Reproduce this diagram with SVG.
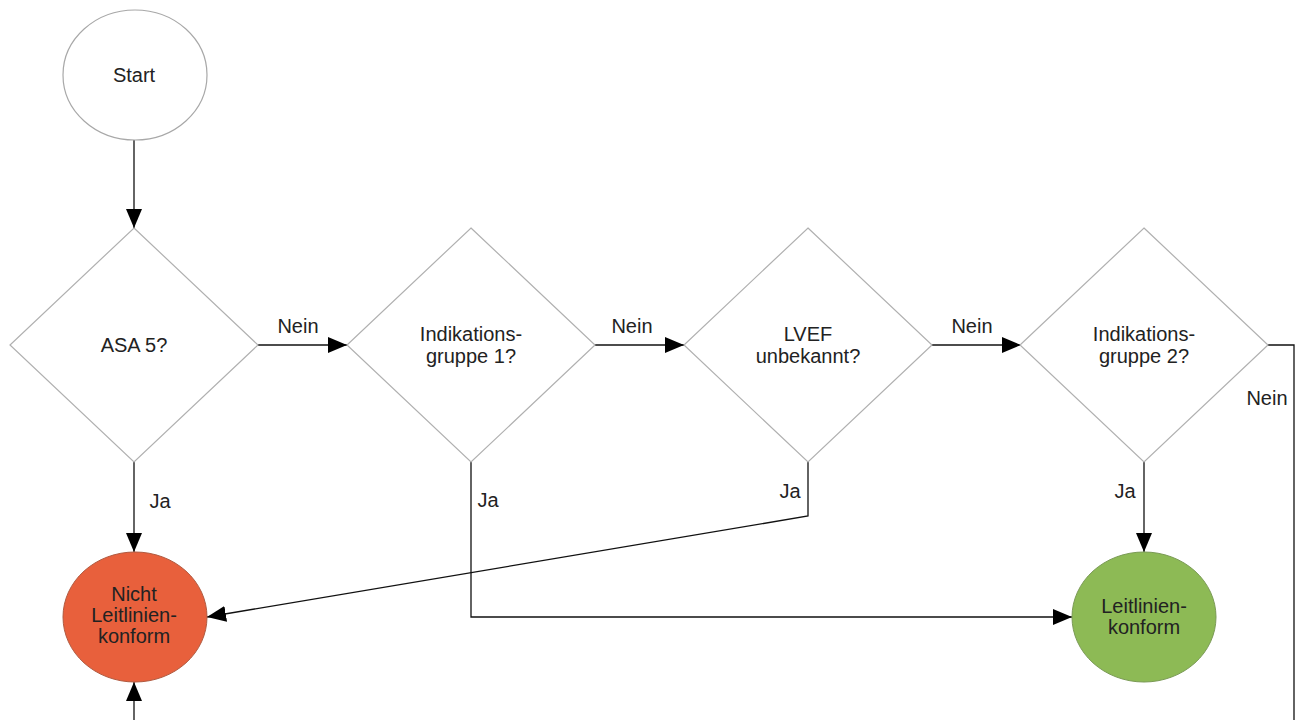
<svg xmlns="http://www.w3.org/2000/svg" width="1299" height="720" viewBox="0 0 1299 720">
<style>
text{font-family:"Liberation Sans",Arial,sans-serif;font-size:20px;fill:#222;text-anchor:middle}
.dia{fill:#fff;stroke:#b0b0b0;stroke-width:1.2}
.start{fill:#fff;stroke:#a8a8a8;stroke-width:1.2}
.red{fill:#e8603c;stroke:#b05a40;stroke-width:1}
.green{fill:#8dba55;stroke:#7a9a55;stroke-width:1}
.edge{fill:none;stroke:#111;stroke-width:1.3}
</style>
<defs>
<marker id="arr" markerUnits="userSpaceOnUse" markerWidth="20" markerHeight="16" refX="19" refY="8" orient="auto">
<path d="M0,0 L19,8 L0,16 z" fill="#000"/>
</marker>
</defs>
<rect width="1299" height="720" fill="#fff"/>
<g id="connectors">
<path class="edge" d="M134,140 V228" marker-end="url(#arr)"/>
<path class="edge" d="M134,462 V552" marker-end="url(#arr)"/>
<path class="edge" d="M258,345 H347" marker-end="url(#arr)"/>
<path class="edge" d="M471,462 V617 H1072" marker-end="url(#arr)"/>
<path class="edge" d="M595,345 H684" marker-end="url(#arr)"/>
<path class="edge" d="M808,462 V516 L207,617" marker-end="url(#arr)"/>
<path class="edge" d="M932,345 H1021" marker-end="url(#arr)"/>
<path class="edge" d="M1144,462 V552" marker-end="url(#arr)"/>
<path class="edge" d="M1268,345 H1294 V720"/>
<path class="edge" d="M134,720 V682" marker-end="url(#arr)"/>
<text x="298" y="333">Nein</text>
<text x="632" y="333">Nein</text>
<text x="972" y="333">Nein</text>
<text x="160" y="508">Ja</text>
<text x="488" y="507">Ja</text>
<text x="790" y="498">Ja</text>
<text x="1125" y="498">Ja</text>
<text x="1267" y="405">Nein</text>
</g>
<g id="start">
<ellipse class="start" cx="135" cy="75" rx="72" ry="65"/>
<text x="134" y="82">Start</text>
</g>
<g id="asa5">
<polygon class="dia" points="134,228 258,345 134,462 10,345"/>
<text x="134" y="352">ASA 5?</text>
</g>
<g id="ind1">
<polygon class="dia" points="471,228 595,345 471,462 347,345"/>
<text x="471" y="341">Indikations-</text>
<text x="471" y="363">gruppe 1?</text>
</g>
<g id="lvef">
<polygon class="dia" points="808,228 932,345 808,462 684,345"/>
<text x="808" y="341">LVEF</text>
<text x="808" y="363">unbekannt?</text>
</g>
<g id="ind2">
<polygon class="dia" points="1144,228 1268,345 1144,462 1020,345"/>
<text x="1144" y="341">Indikations-</text>
<text x="1144" y="363">gruppe 2?</text>
</g>
<g id="nicht">
<ellipse class="red" cx="135" cy="617" rx="72" ry="65"/>
<text x="134" y="601">Nicht</text>
<text x="134" y="622">Leitlinien-</text>
<text x="134" y="643">konform</text>
</g>
<g id="konform">
<ellipse class="green" cx="1144" cy="617" rx="72" ry="65"/>
<text x="1144" y="613">Leitlinien-</text>
<text x="1144" y="634">konform</text>
</g>
</svg>
